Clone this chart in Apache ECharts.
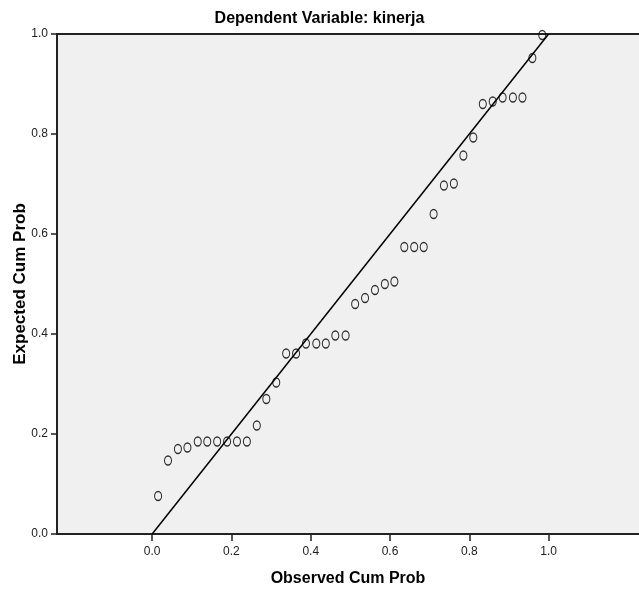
<!DOCTYPE html>
<html>
<head>
<meta charset="utf-8">
<script src="https://cdn.jsdelivr.net/npm/echarts@6/dist/echarts.min.js"></script>
<style>
  html, body { margin: 0; padding: 0; background: #fff; }
  #chart { width: 639px; height: 596px; }
</style>
</head>
<body>
<div id="chart"></div>
<script>
// observed vs expected cumulative probability
var observed = [0.015, 0.040, 0.065, 0.089, 0.115, 0.139, 0.164, 0.189, 0.214, 0.239,
                0.264, 0.288, 0.313, 0.338, 0.363, 0.388, 0.414, 0.438, 0.462, 0.488,
                0.512, 0.537, 0.562, 0.587, 0.611, 0.636, 0.661, 0.685, 0.710, 0.736,
                0.761, 0.785, 0.810, 0.834, 0.859, 0.884, 0.910, 0.934, 0.959, 0.984];
var expected = [0.076, 0.147, 0.170, 0.173, 0.185, 0.185, 0.185, 0.185, 0.185, 0.185,
                0.217, 0.270, 0.303, 0.361, 0.361, 0.381, 0.381, 0.381, 0.397, 0.397,
                0.460, 0.472, 0.488, 0.500, 0.505, 0.574, 0.574, 0.574, 0.640, 0.697,
                0.701, 0.757, 0.793, 0.860, 0.865, 0.873, 0.873, 0.873, 0.952, 0.998];
var refLine = [[0, 0], [1, 1]];
var xTicks = [0, 0.2, 0.4, 0.6, 0.8, 1.0];

var points = [];
for (var i = 0; i < observed.length; i++) {
    points.push([observed[i], expected[i]]);
}

var myChart = echarts.init(document.getElementById('chart'));
var font = '"Liberation Sans Narrow", "Arial Narrow", "Liberation Sans", Arial, sans-serif';

var option = {
    animation: false,
    title: {
        text: 'Dependent Variable: kinerja',
        left: 'center',
        top: 6,
        textStyle: { fontFamily: font, fontSize: 16, fontWeight: 'bold', color: '#000' }
    },
    grid: {
        left: 57,
        top: 34,
        right: 0,
        bottom: 62,
        outerBoundsMode: 'none',
        containLabel: false,
        show: true,
        backgroundColor: '#f0f0f0',
        borderWidth: 0
    },
    xAxis: [
        {
            type: 'value',
            min: -0.24,
            max: 1.228,
            position: 'bottom',
            name: 'Observed Cum Prob',
            nameLocation: 'middle',
            nameGap: 37,
            nameMoveOverlap: false,
            nameTextStyle: { fontFamily: font, fontSize: 16, fontWeight: 'bold', color: '#000' },
            splitLine: { show: false },
            axisLine: { onZero: false, lineStyle: { color: '#222', width: 2 } },
            axisTick: { show: true, customValues: xTicks, length: 7, lineStyle: { color: '#222', width: 1.5 } },
            axisLabel: {
                customValues: xTicks,
                margin: 12,
                fontFamily: font,
                fontSize: 12,
                color: '#222',
                formatter: function (v) { return v.toFixed(1); }
            }
        },
        {
            type: 'value',
            min: -0.24,
            max: 1.228,
            position: 'top',
            splitLine: { show: false },
            axisLine: { show: true, onZero: false, lineStyle: { color: '#222', width: 2 } },
            axisTick: { show: false },
            axisLabel: { show: false }
        }
    ],
    yAxis: {
        type: 'value',
        min: 0,
        max: 1,
        interval: 0.2,
        position: 'left',
        name: 'Expected Cum Prob',
        nameLocation: 'middle',
        nameGap: 28,
        nameMoveOverlap: false,
        nameTextStyle: { fontFamily: '"Liberation Sans", Arial, sans-serif', fontSize: 17, fontWeight: 'bold', color: '#000' },
        splitLine: { show: false },
        axisLine: { show: true, onZero: false, lineStyle: { color: '#222', width: 2 } },
        axisTick: { show: true, length: 6, lineStyle: { color: '#222', width: 1.5 } },
        axisLabel: {
            margin: 9,
            fontFamily: font,
            fontSize: 12,
            color: '#222',
            formatter: function (v) { return v.toFixed(1); }
        }
    },
    series: [
        {
            type: 'line',
            data: refLine,
            symbol: 'none',
            silent: true,
            lineStyle: { color: '#000', width: 1.5 },
            z: 2
        },
        {
            type: 'scatter',
            data: points,
            symbol: 'circle',
            symbolSize: [7, 9],
            itemStyle: { color: 'rgba(0,0,0,0)', borderColor: '#000', borderWidth: 1.2 },
            z: 3
        }
    ]
};

myChart.setOption(option);
</script>
</body>
</html>
